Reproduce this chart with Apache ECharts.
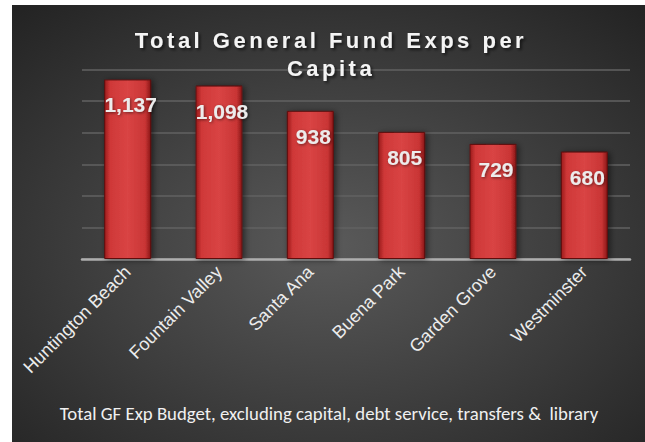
<!DOCTYPE html>
<html>
<head>
<meta charset="utf-8">
<script src="https://cdn.jsdelivr.net/npm/echarts@6/dist/echarts.min.js"></script>
<style>
  html, body { margin: 0; padding: 0; background: #ffffff; }
  #chart { width: 645px; height: 442px; }
</style>
</head>
<body>
<div id="chart"></div>
<script>
// Per-capita general fund expenditures by city
const cities = ['Huntington Beach', 'Fountain Valley', 'Santa Ana', 'Buena Park', 'Garden Grove', 'Westminster'];
const expsPerCapita = [1137, 1098, 938, 805, 729, 680];
const titleLines = ['Total General Fund Exps per', 'Capita'];
const footnote = 'Total GF Exp Budget, excluding capital, debt service, transfers &  library';

const chart = echarts.init(document.getElementById('chart'), null, { renderer: 'svg' });

const barFill = new echarts.graphic.LinearGradient(0, 0, 1, 0, [
  { offset: 0, color: '#9c1c1c' },
  { offset: 0.12, color: '#cf3838' },
  { offset: 0.5, color: '#d94444' },
  { offset: 0.88, color: '#c93535' },
  { offset: 1, color: '#8a1717' }
]);

chart.setOption({
  animation: false,
  backgroundColor: '#ffffff',
  graphic: [
    {
      type: 'rect',
      z: -10,
      silent: true,
      shape: { x: 12, y: 5, width: 633, height: 437 },
      style: {
        fill: new echarts.graphic.RadialGradient(0.5, 0.55, 0.75, [
          { offset: 0, color: '#5a5a5a' },
          { offset: 1, color: '#222222' }
        ])
      }
    },
    {
      type: 'text',
      x: 329,
      y: 413,
      style: {
        text: footnote,
        fill: '#f0f0f0',
        font: '18.8px Carlito, Lato, "Open Sans", sans-serif',
        align: 'center',
        verticalAlign: 'middle'
      }
    }
  ],
  title: {
    text: titleLines.join('\n'),
    left: 331,
    top: 26,
    textAlign: 'center',
    padding: 0,
    textStyle: {
      color: '#f4f4f4',
      fontFamily: '"Liberation Sans", Arial, sans-serif',
      fontWeight: 'bold',
      fontSize: 22,
      lineHeight: 28,
      textShadowColor: 'rgba(0,0,0,0.6)',
      textShadowBlur: 3,
      textShadowOffsetX: 2,
      textShadowOffsetY: 2
    }
  },
  grid: { left: 82, right: 15, top: 69.5, bottom: 183 },
  xAxis: {
    type: 'category',
    data: cities,
    axisLine: { lineStyle: { color: '#aeaeae', width: 2.5 } },
    axisTick: { show: false },
    axisLabel: {
      rotate: 45,
      interval: 0,
      margin: 10,
      color: '#ececec',
      fontSize: 18,
      fontFamily: '"Liberation Sans", Arial, sans-serif'
    }
  },
  yAxis: {
    type: 'value',
    min: 0,
    max: 1200,
    interval: 200,
    axisLabel: { show: false },
    axisLine: { show: false },
    axisTick: { show: false },
    splitLine: { lineStyle: { color: '#626262', width: 1.5 } }
  },
  series: [{
    type: 'bar',
    data: expsPerCapita,
    barWidth: 47,
    itemStyle: {
      color: barFill,
      borderColor: '#5e1111',
      borderWidth: 1,
      shadowColor: 'rgba(0,0,0,0.55)',
      shadowBlur: 6,
      shadowOffsetX: 2,
      shadowOffsetY: 1
    },
    label: {
      show: true,
      position: 'insideTop',
      distance: 15,
      offset: [3, 0],
      formatter: p => p.value.toLocaleString('en-US'),
      color: '#ececec',
      fontFamily: '"Liberation Sans", Arial, sans-serif',
      fontWeight: 'bold',
      fontSize: 21,
      textShadowColor: 'rgba(0,0,0,0.5)',
      textShadowBlur: 3,
      textShadowOffsetX: 1,
      textShadowOffsetY: 1
    }
  }]
});

// The title is tracked out (wide letter spacing); apply it to the rendered SVG text.
function spaceTitle() {
  document.querySelectorAll('#chart svg text').forEach(t => {
    if (titleLines.indexOf(t.textContent) >= 0) {
      t.setAttribute('letter-spacing', '3.5');
    }
  });
}
chart.on('finished', spaceTitle);
spaceTitle();
</script>
</body>
</html>
